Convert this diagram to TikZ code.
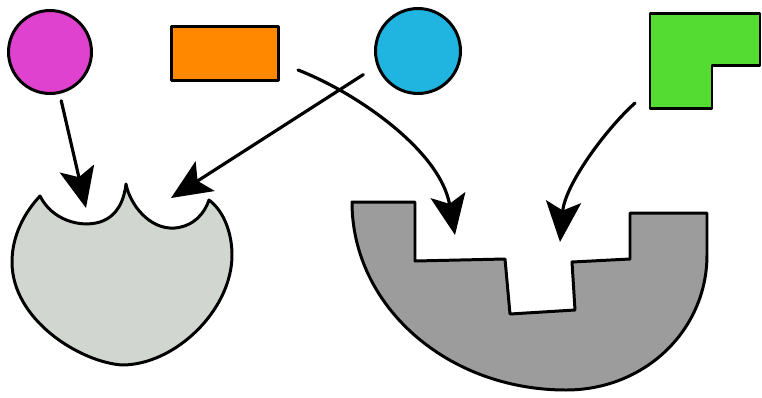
\documentclass[tikz,border=0pt]{standalone}
\usetikzlibrary{arrows.meta}
\definecolor{pinkfill}{RGB}{222,66,206}
\definecolor{orangefill}{RGB}{255,136,0}
\definecolor{bluefill}{RGB}{32,180,224}
\definecolor{greenfill}{RGB}{84,220,50}
\definecolor{cupgrey}{RGB}{210,214,208}
\definecolor{slotgrey}{RGB}{156,156,156}
\begin{document}
\begin{tikzpicture}[x=0.02cm,y=-0.02cm,
    piece/.style={draw,line width=1.7pt,inner sep=0pt,line join=round},
    arr/.style={line width=1.8pt,line cap=round,-{Stealth[length=23pt,width=20pt,inset=5pt]}}]
  \useasboundingbox (0,0) rectangle (762,397);
  % the loose pieces
  \node[piece,circle,fill=pinkfill,minimum size=1.66cm] (pinkBall) at (50,52) {};
  \node[piece,fill=orangefill,minimum width=2.14cm,minimum height=1.08cm] (orangeBar) at (225,53.5) {};
  \node[piece,circle,fill=bluefill,minimum size=1.70cm] (blueBall) at (418,51) {};
  \draw[piece,fill=greenfill] (650,13) -- (760,13) -- (760,65) -- (712,65) -- (712,108) -- (650,108) -- cycle;
  % the two receivers
  \draw[piece,fill=cupgrey] (40,196) .. controls (52,220) and (80,228) .. (100,222)
    .. controls (118,216) and (124,200) .. (126,184)
    .. controls (130,205) and (150,230) .. (175,228)
    .. controls (195,226) and (205,212) .. (209,200)
    .. controls (225,212) and (232,235) .. (232,255)
    .. controls (232,310) and (175,365) .. (122,365)
    .. controls (80,362) and (12,320) .. (12,262)
    .. controls (12,235) and (25,212) .. (40,196) -- cycle;
  \draw[piece,fill=slotgrey] (352,202) -- (415,202) -- (415,261) -- (505,259) -- (510,314) -- (575,310)
    -- (572,262) -- (630,259) -- (630,213) -- (707,213) -- (707,255)
    .. controls (707,330) and (645,390) .. (566,390)
    .. controls (447,390) and (352,306) .. (352,202) -- cycle;
  \coordinate (pinkSite) at (86,208);
  \coordinate (blueSite) at (171,198);
  \coordinate (orangeSite) at (455,235);
  \coordinate (greenSite) at (560,242);
  \coordinate (orangeTail) at (298,70);
  \coordinate (greenTail) at (635,103);
  % arrows
  \draw[arr,shorten <=4pt] (pinkBall) -- (pinkSite);
  \draw[arr,shorten <=9pt] (blueBall.200) -- (blueSite);
  \draw[arr] (orangeTail) .. controls (355,92) and (440,150) .. (orangeSite);
  \draw[arr] (greenTail) .. controls (605,130) and (565,185) .. (greenSite);
\end{tikzpicture}
\end{document}
